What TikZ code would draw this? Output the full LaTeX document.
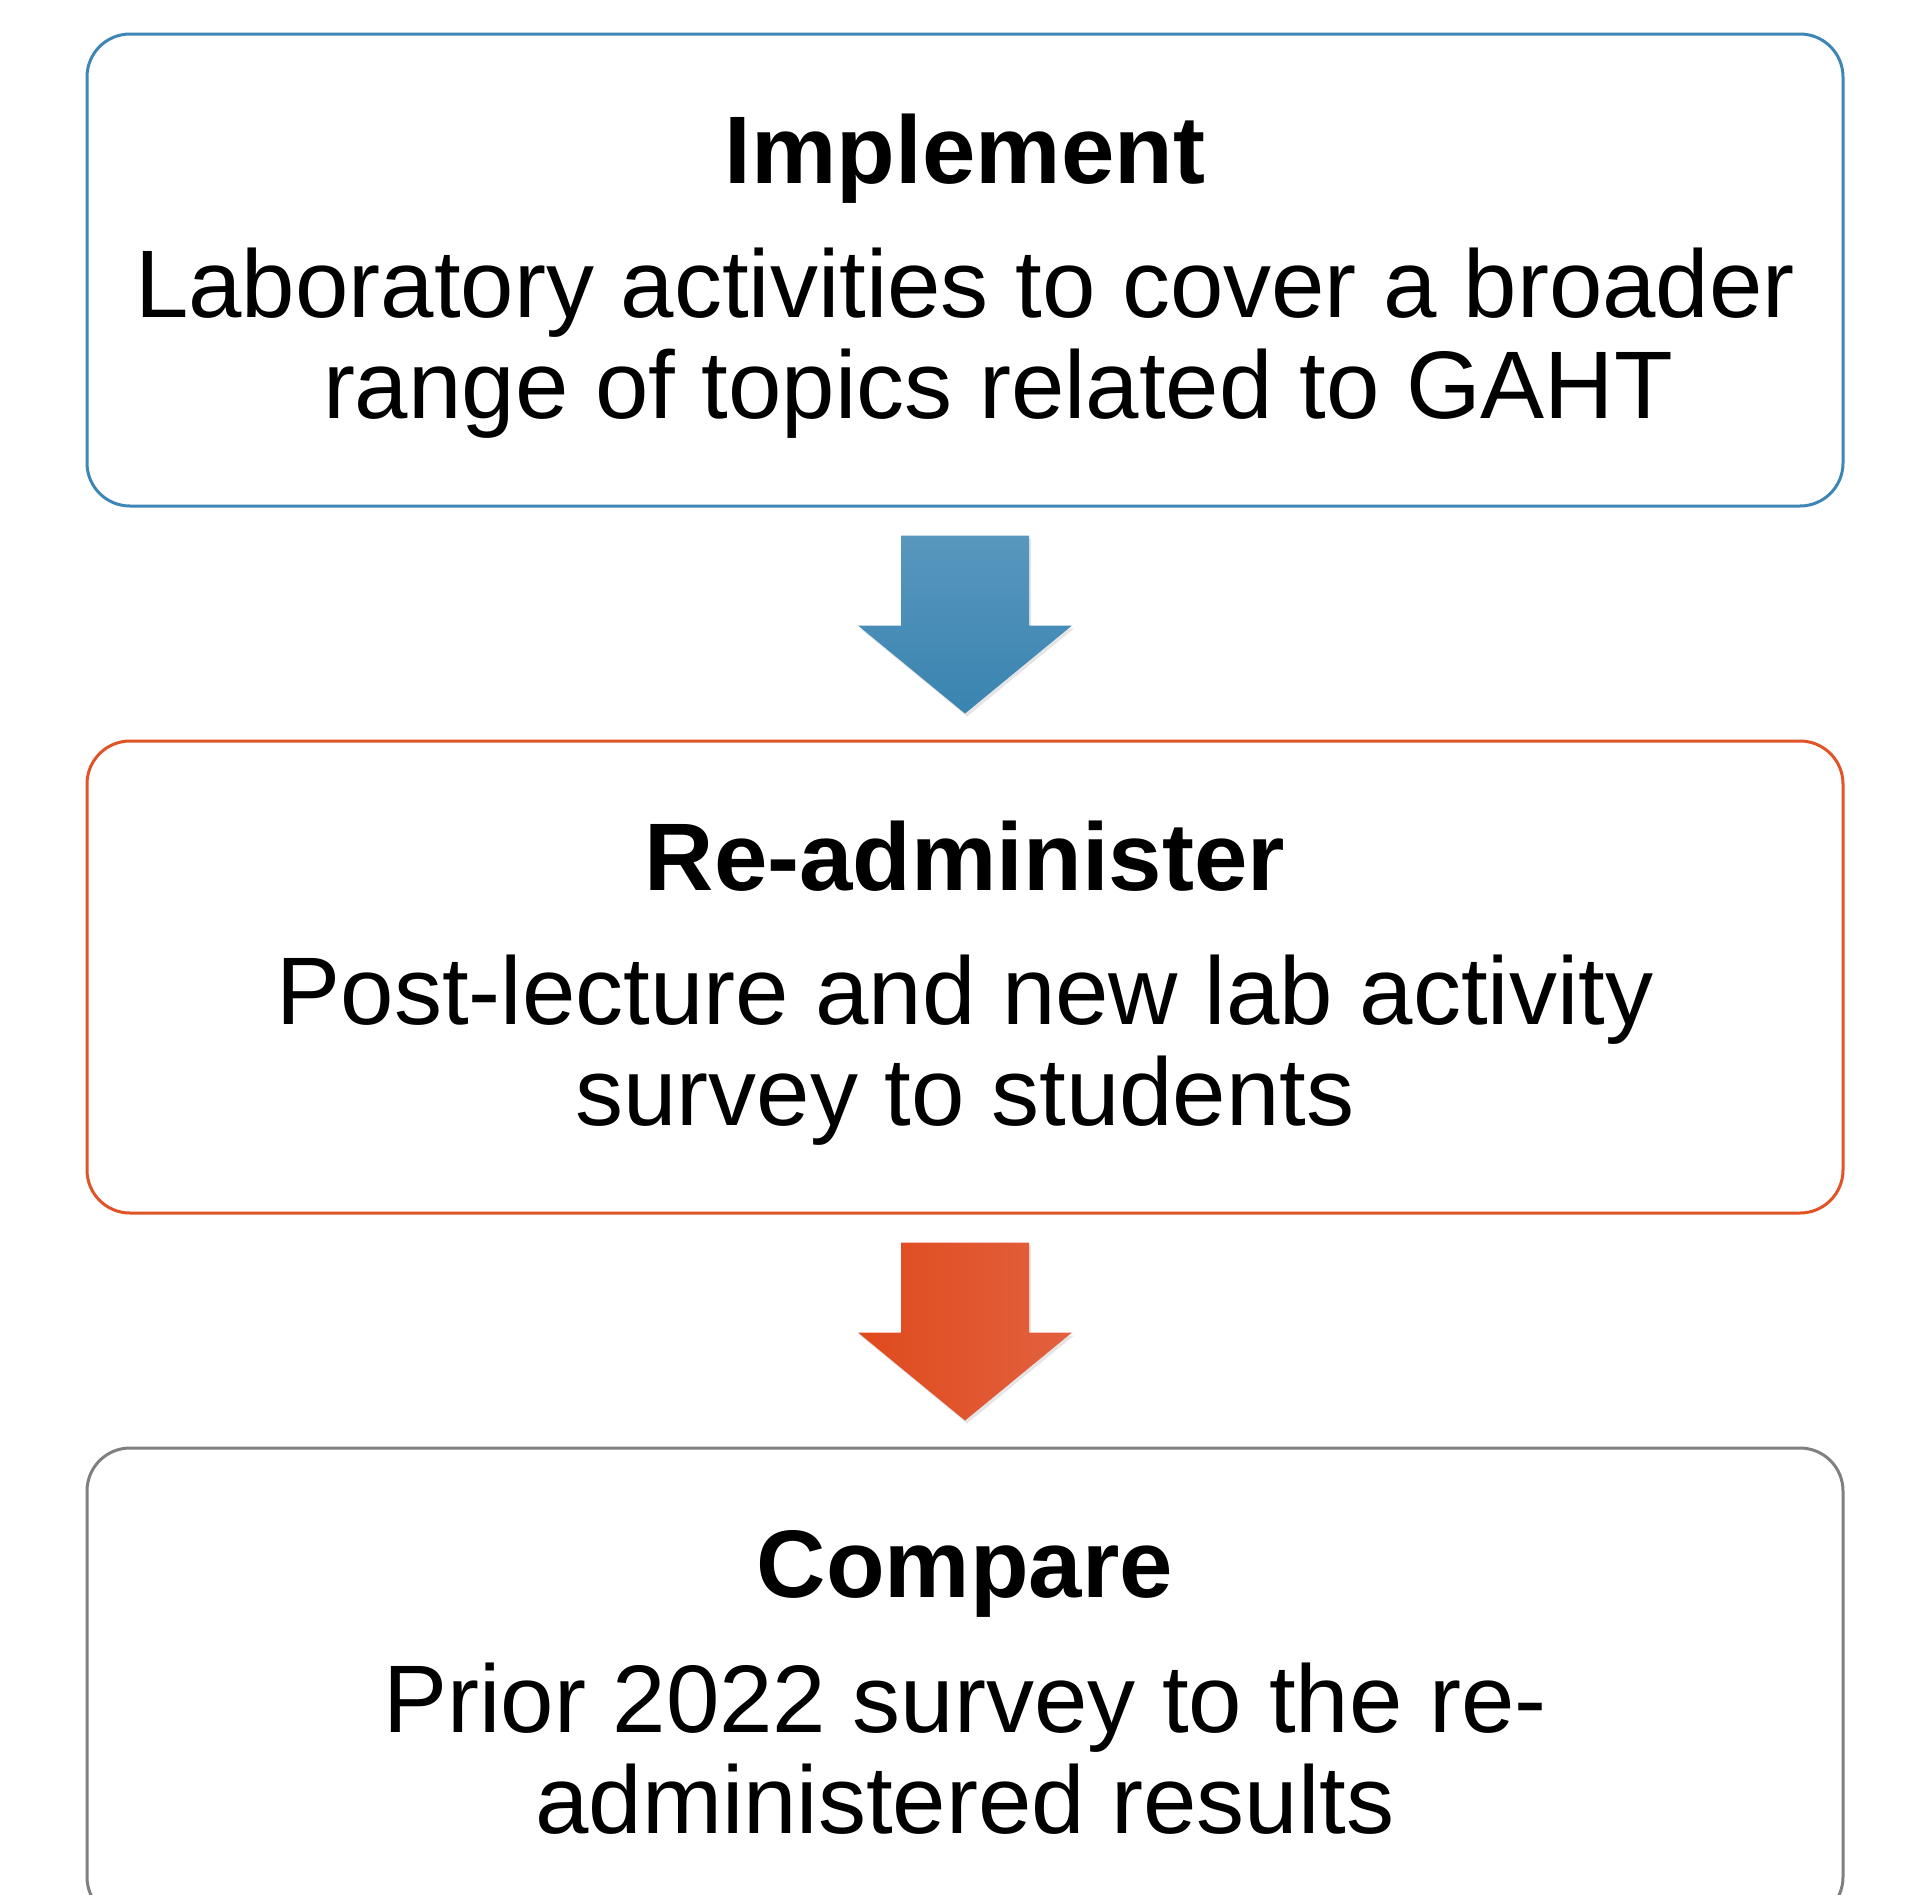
\documentclass[tikz,border=0pt]{standalone}
\usepackage{fontspec}
\setmainfont{Liberation Sans}
\usetikzlibrary{shadows}
\definecolor{cblue}{RGB}{62,134,181}
\definecolor{cblueA}{RGB}{88,151,190}
\definecolor{cblueB}{RGB}{57,132,176}
\definecolor{corange}{RGB}{224,84,40}
\definecolor{corangeA}{RGB}{224,74,29}
\definecolor{corangeB}{RGB}{226,97,63}
\definecolor{cgray}{RGB}{128,128,128}
\tikzset{
  stagebox/.style={draw, line width=3pt, rounded corners=43pt, fill=white,
    minimum width=1756pt, minimum height=472pt, inner sep=0pt},
  titletext/.style={anchor=base, inner sep=0pt, font=\fontsize{96}{101}\selectfont\bfseries},
  bodytext/.style={anchor=base, inner sep=0pt, font=\fontsize{96}{101}\selectfont},
  arrowshadow/.style={drop shadow={shadow xshift=2pt, shadow yshift=-3pt, opacity=0.1, fill=black}}
}
\begin{document}
\begin{tikzpicture}[x=1pt,y=-1pt]
\useasboundingbox (0,0) rectangle (1925,1895);
\clip (0,0) rectangle (1925,1895);
\fill[white] (0,0) rectangle (1925,1895);

% boxes
\node[stagebox, draw=cblue] (b1) at (965,270) {};
\node[stagebox, draw=corange] (b2) at (965,977) {};
\node[stagebox, draw=cgray] (b3) at (965,1684) {};

% texts box 1
\node[titletext] (t1) at (965,183) {Implement};
\node[bodytext] (l1a) at (965,317) {Laboratory activities to cover a broader};
\node[bodytext] (l1b) at (998,418) {range of topics related to GAHT};

% texts box 2
\node[titletext] (t2) at (965,890) {Re-administer};
\node[bodytext] (l2a) at (965,1024) {Post-lecture and new lab activity};
\node[bodytext] (l2b) at (965,1125) {survey to students};

% texts box 3
\node[titletext] (t3) at (965,1597) {Compare};
\node[bodytext] (l3a) at (965,1732) {Prior 2022 survey to the re-};
\node[bodytext] (l3b) at (965,1833) {administered results};

% block arrows
\path[arrowshadow, top color=cblueA, bottom color=cblueB]
  ([xshift=-64pt,yshift=-28pt]b1.south) -- ([xshift=64pt,yshift=-28pt]b1.south)
  -- ([xshift=64pt,yshift=-118pt]b1.south) -- ([xshift=107pt,yshift=-118pt]b1.south)
  -- ([yshift=-206pt]b1.south) -- ([xshift=-107pt,yshift=-118pt]b1.south)
  -- ([xshift=-64pt,yshift=-118pt]b1.south) -- cycle;
\path[arrowshadow, left color=corangeA, right color=corangeB]
  ([xshift=-64pt,yshift=-28pt]b2.south) -- ([xshift=64pt,yshift=-28pt]b2.south)
  -- ([xshift=64pt,yshift=-118pt]b2.south) -- ([xshift=107pt,yshift=-118pt]b2.south)
  -- ([yshift=-206pt]b2.south) -- ([xshift=-107pt,yshift=-118pt]b2.south)
  -- ([xshift=-64pt,yshift=-118pt]b2.south) -- cycle;
\end{tikzpicture}
\end{document}
